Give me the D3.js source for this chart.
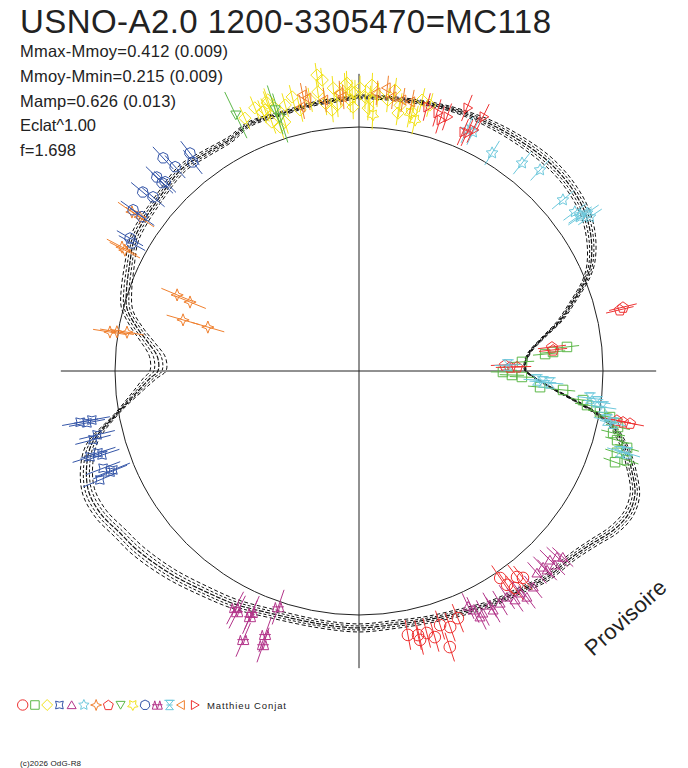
<!DOCTYPE html>
<html><head><meta charset="utf-8">
<script src="https://cdn.jsdelivr.net/npm/d3@7"></script>
<style>body{margin:0;background:#fff}svg{display:block}</style>
</head><body>
<svg id="chart" width="688" height="768"></svg>
<script>
// ---------- DATA ----------
const titleText = "USNO-A2.0 1200-3305470=MC118";
const statLabels = ["Mmax-Mmoy=0.412 (0.009)", "Mmoy-Mmin=0.215 (0.009)", "Mamp=0.626 (0.013)", "Eclat^1.00", "f=1.698"];
const authorText = "Matthieu Conjat";
const copyrightText = "(c)2026 OdG-R8";
const watermarkText = "Provisoire";

// fitted light curve: phase (degrees, clockwise from top), relative flux (mean = 1), spread of the family of fits
const curvePhase = [0,10,20,30,40,45,50,55,60,65,68,72,76,80,84,88,90,92,95,98,100,102,104,107,110,114,118,122,126,131,138,144,150,157,165,172,180,189,200,208,215,223,231,236,241,246,251,255,260,265,268,270,274,278,281,285,289,295,300,303,310,319,325,331,336,344,351,356];
const curveFlux = [1.123,1.127,1.139,1.148,1.156,1.156,1.148,1.131,1.098,1.049,1.004,0.922,0.848,0.762,0.701,0.680,0.684,0.717,0.791,0.902,0.984,1.057,1.098,1.148,1.189,1.238,1.250,1.230,1.193,1.160,1.143,1.115,1.098,1.074,1.057,1.049,1.053,1.049,1.057,1.082,1.102,1.135,1.168,1.184,1.209,1.213,1.180,1.131,1.008,0.906,0.857,0.824,0.828,0.877,0.926,0.984,1.008,1.037,1.066,1.074,1.082,1.102,1.090,1.086,1.107,1.102,1.111,1.115];
const curveSpread = [0.016,0.016,0.020,0.033,0.041,0.041,0.041,0.041,0.041,0.037,0.033,0.029,0.025,0.016,0.012,0.008,0.008,0.008,0.012,0.020,0.025,0.029,0.033,0.037,0.041,0.041,0.041,0.041,0.037,0.033,0.029,0.025,0.025,0.029,0.029,0.033,0.033,0.033,0.037,0.041,0.045,0.049,0.053,0.053,0.053,0.053,0.053,0.049,0.020,0.041,0.057,0.066,0.066,0.061,0.057,0.049,0.045,0.041,0.037,0.037,0.033,0.033,0.029,0.025,0.020,0.016,0.016,0.016];
const curveOffsets = [-0.5,-0.25,0,0.25,0.5];

// observations: [phase deg, relative flux]
const redCircles = [[169.5,1.100],[167.4,1.109],[165.5,1.109],[164.1,1.134],[167.2,1.130],[160.4,1.114],[158.2,1.091],[161.8,1.191],[162.3,1.093],[145.7,1.027],[142.5,1.064],[141.6,1.082],[145.3,1.066],[144.3,1.095]];
const greenSquares = [[83.4,0.858],[84.8,0.766],[84.4,0.799],[86.8,0.669],[90.4,0.590],[91.5,0.627],[92.1,0.668],[95.1,0.745],[95.3,0.840],[97.4,0.926],[98.5,0.945],[99.7,1.002],[100.4,1.046],[102.2,1.086],[103.7,1.072],[105.0,1.095],[106.0,1.143],[107.6,1.109],[109.6,1.114],[108.4,1.157]];
const yellowDiamonds = [[335.7,1.137],[338.4,1.160],[339.5,1.134],[341.4,1.172],[342.3,1.131],[344.5,1.131],[346.3,1.156],[347.3,1.097],[349.8,1.129],[351.6,1.156],[352.8,1.107],[354.8,1.164],[356.1,1.134],[357.2,1.173],[358.1,1.111],[359.2,1.143],[0.2,1.160],[1.3,1.123],[2.0,1.078],[2.6,1.173],[3.9,1.134],[6.1,1.117],[7.3,1.161],[8.8,1.102],[11.6,1.084],[13.1,1.140],[14.9,1.128],[351.9,1.225],[352.8,1.202],[357.6,1.181],[358.6,1.144],[341.1,1.161],[340.2,1.137],[340.7,1.081],[342.1,1.051],[343.4,1.065],[354.1,1.075],[355.3,1.094],[358.7,1.082],[2.3,1.120],[8.6,1.069]];
const blueConcaveSquares = [[259.6,1.162],[259.6,1.113],[259.2,1.135],[256.3,1.105],[255.5,1.126],[252.3,1.157],[252.6,1.121],[251.9,1.108],[249.2,1.122],[248.1,1.087],[247.9,1.101],[247.2,1.152]];
const magentaTriangles = [[154.5,1.085],[152.9,1.114],[153.8,1.123],[148.7,1.113],[146.8,1.107],[144.0,1.124],[143.4,1.154],[141.1,1.137],[138.6,1.103],[136.8,1.102],[134.7,1.101],[133.2,1.113],[132.4,1.131],[136.6,1.122],[150.7,1.123],[145.7,1.135],[150.8,1.099],[134.7,1.130],[155.1,1.062]];
const cyanStars = [[24.1,1.082],[25.5,1.085],[31.4,1.047],[38.1,1.083],[42.0,1.109],[50.0,1.091],[54.8,1.109],[55.3,1.137],[56.3,1.138],[55.1,1.104],[53.6,1.099]];
const orangeStars = [[305.0,1.136],[305.1,1.097],[297.6,1.096],[297.3,1.080],[292.7,0.808],[292.2,0.748],[286.2,0.751],[286.2,0.645],[278.9,1.033],[279.2,1.005],[279.5,0.964]];
const redPentagons = [[76.8,1.098],[76.4,1.113],[82.9,0.797],[83.8,0.800],[87.6,0.599],[88.5,0.619],[88.5,0.648],[100.9,1.102],[100.9,1.131],[100.8,1.076]];
const greenTrianglesDown = [[334.3,1.164],[342.2,1.124],[342.7,1.086]];
const yellowStars = [[11.2,1.078],[3.1,1.051],[12.6,1.054]];
const blueHexagons = [[317.4,1.186],[318.0,1.126],[322.2,1.130],[321.5,1.094],[313.8,1.148],[313.7,1.116],[314.3,1.110],[309.6,1.150],[310.2,1.105],[305.5,1.137],[305.4,1.091],[300.1,1.085],[299.4,1.068]];
const magentaDoubleTriangles = [[207.6,1.096],[206.8,1.107],[203.9,1.103],[203.9,1.084],[203.3,1.200],[199.6,1.148],[199.3,1.190],[198.9,1.023]];
const cyanHourglasses = [[87.7,0.611],[92.9,0.730],[93.4,0.755],[93.6,0.784],[96.7,0.953],[97.4,0.984],[98.4,1.011],[101.2,1.036],[101.6,1.063],[107.2,1.120],[107.0,1.149]];
const orangeTrianglesLeft = [[348.5,1.154],[349.4,1.138],[352.8,1.119],[356.1,1.142],[356.7,1.125],[3.7,1.142],[5.7,1.166],[7.1,1.132],[9.2,1.125],[11.1,1.124],[347.8,1.107]];
const redTrianglesRight = [[14.4,1.117],[16.8,1.105],[17.9,1.081],[19.1,1.102],[22.3,1.165],[24.4,1.071],[26.0,1.159],[25.3,1.093],[23.5,1.068]];

const seriesData = [redCircles, greenSquares, yellowDiamonds, blueConcaveSquares, magentaTriangles, cyanStars, orangeStars, redPentagons, greenTrianglesDown, yellowStars, blueHexagons, magentaDoubleTriangles, cyanHourglasses, orangeTrianglesLeft, redTrianglesRight];
const seriesShapes = ["circle","square","diamond","concave","triUp","star5","star4","pentagon","triDown","star6","hexagon","doubleTri","hourglass","triLeft","triRight"];
const seriesColors = ["#ee3333","#5cb848","#f2e21a","#3556a8","#b3358a","#6cc8dc","#f0802e","#ee3333","#5cb848","#f2e21a","#3556a8","#b3358a","#6cc8dc","#f0802e","#ee3333"];
const seriesErr = [0.062,0.05,0.05,0.075,0.058,0.058,0.07,0.058,0.105,0.06,0.062,0.075,0.055,0.05,0.058];

// ---------- CHART ----------
const svg = d3.select("#chart");
const W = 688, H = 768;
svg.append("rect").attr("width", W).attr("height", H).attr("fill", "#fff");
const cx = 359, cy = 371;
const rScale = d3.scaleLinear().domain([0, 1]).range([0, 244]);
const aScale = d3.scaleLinear().domain([0, 360]).range([0, 2 * Math.PI]);
const axisExtent = 1.222;
const ink = "#222";
const font = "'Liberation Sans', Arial, sans-serif";

const g = svg.append("g").attr("transform", `translate(${cx},${cy})`);

// axes
g.append("line").attr("x1", -rScale(axisExtent)).attr("x2", rScale(axisExtent) - 1).attr("y1", 0).attr("y2", 0)
  .attr("stroke", ink).attr("stroke-width", 1);
g.append("line").attr("x1", 0).attr("x2", 0).attr("y1", -rScale(axisExtent) + 1).attr("y2", rScale(axisExtent) - 1)
  .attr("stroke", ink).attr("stroke-width", 1);
// mean circle
g.append("circle").attr("r", rScale(1)).attr("fill", "none").attr("stroke", ink).attr("stroke-width", 1);

// family of fitted curves
const curvePts = curvePhase.map((p, i) => ({p, f: curveFlux[i], s: curveSpread[i]}));
curveOffsets.forEach((k, j) => {
  const line = d3.lineRadial()
    .angle(d => aScale(d.p))
    .radius(d => rScale(d.f + k * d.s))
    .curve(d3.curveCatmullRomClosed.alpha(0.5));
  g.append("path").attr("d", line(curvePts)).attr("fill", "none")
    .attr("stroke", "#111").attr("stroke-width", k === 0 ? 1.2 : 1)
    .attr("stroke-dasharray", k === 0 ? "5,1.5" : (j % 2 ? "3,2" : "4,2.5"));
});

// shape builders
function poly(pts) { return "M" + pts.map(p => p[0].toFixed(2) + "," + p[1].toFixed(2)).join("L") + "Z"; }
function regular(n, R, rot, dy = 0) {
  const pts = [];
  for (let i = 0; i < n; i++) { const a = rot + i * 2 * Math.PI / n; pts.push([R * Math.sin(a), -R * Math.cos(a) + dy]); }
  return poly(pts);
}
function star(n, R, r, rot) {
  const pts = [];
  for (let i = 0; i < 2 * n; i++) { const a = rot + i * Math.PI / n; const rr = i % 2 ? r : R; pts.push([rr * Math.sin(a), -rr * Math.cos(a)]); }
  return poly(pts);
}
function shapePath(type, R) {
  switch (type) {
    case "circle": return `M${R},0A${R},${R} 0 1,1 ${-R},0A${R},${R} 0 1,1 ${R},0Z`;
    case "square": { const s = R * 0.82; return poly([[-s,-s],[s,-s],[s,s],[-s,s]]); }
    case "diamond": return regular(4, R * 1.05, 0);
    case "concave": return star(4, R * 1.05, R * 0.55, Math.PI / 4);
    case "triUp": return regular(3, R, 0, R * 0.2);
    case "star5": return star(5, R * 1.05, R * 0.5, 0);
    case "star4": return star(4, R * 1.05, R * 0.4, 0);
    case "pentagon": return regular(5, R, 0, R * 0.08);
    case "triDown": return regular(3, R, Math.PI, -R * 0.2);
    case "star6": return star(5, R * 1.05, R * 0.55, Math.PI / 5) ;
    case "hexagon": return regular(7, R * 0.95, 0);
    case "doubleTri": {
      const h = R * 0.8, w = R * 0.48;
      return poly([[-w,-h],[-2*w,h],[0,h]]) + poly([[w,-h],[0,h],[2*w,h]]) + `M${-R},${-0.05*R}L${R},${-0.05*R}`;
    }
    case "hourglass": {
      const h = R * 0.9, w = R * 0.75;
      return poly([[-w,-h],[w,-h],[0,0]]) + poly([[0,0],[w,h],[-w,h]]) + `M${-R},${-h}L${R},${-h}M${-R*0.6},0L${R*0.6},0`;
    }
    case "triLeft": return regular(3, R, -Math.PI / 2, 0);
    case "triRight": return regular(3, R, Math.PI / 2, 0);
  }
}

// observations with radial error bars
seriesData.forEach((data, si) => {
  const col = seriesColors[si], err = seriesErr[si];
  const grp = g.append("g").attr("class", "series-" + si);
  data.forEach(([p, f]) => {
    const a = aScale(p);
    const p1 = d3.pointRadial(a, rScale(f - err));
    const p2 = d3.pointRadial(a, rScale(f + err));
    const pc = d3.pointRadial(a, rScale(f));
    grp.append("line").attr("x1", p1[0]).attr("y1", p1[1]).attr("x2", p2[0]).attr("y2", p2[1])
      .attr("stroke", col).attr("stroke-width", 1);
    grp.append("path").attr("d", shapePath(seriesShapes[si], 5.8))
      .attr("transform", `translate(${pc[0]},${pc[1]})`)
      .attr("fill", "none").attr("stroke", col).attr("stroke-width", 1);
  });
});

// title and statistics
svg.append("text").attr("x", 20).attr("y", 33).text(titleText)
  .attr("font-family", font).attr("font-size", 33).attr("fill", ink)
  .attr("textLength", 531).attr("lengthAdjust", "spacing");
const statLengths = [208, 203, 156, 76, 56];
statLabels.forEach((t, i) => {
  svg.append("text").attr("x", 20).attr("y", 57.3 + i * 24.6).text(t)
    .attr("font-family", font).attr("font-size", 16.5).attr("fill", ink)
    .attr("textLength", statLengths[i]).attr("lengthAdjust", "spacing");
});

// watermark
svg.append("text").attr("transform", "translate(593,657) rotate(-42)").text(watermarkText)
  .attr("font-family", font).attr("font-size", 22).attr("fill", ink)
  .attr("textLength", 101).attr("lengthAdjust", "spacing");

// legend
const legendX = d3.scaleLinear().domain([0, seriesShapes.length - 1]).range([22.7, 194]);
const legend = svg.append("g");
seriesShapes.forEach((s, i) => {
  legend.append("path").attr("d", shapePath(s, 5.2))
    .attr("transform", `translate(${legendX(i)},705)`)
    .attr("fill", "none").attr("stroke", seriesColors[i]).attr("stroke-width", 1);
});
svg.append("text").attr("x", 207).attr("y", 709).text(authorText)
  .attr("font-family", font).attr("font-size", 9.5).attr("fill", ink)
  .attr("textLength", 79).attr("lengthAdjust", "spacing");
svg.append("text").attr("x", 20).attr("y", 766).text(copyrightText)
  .attr("font-family", font).attr("font-size", 8).attr("fill", ink)
  .attr("textLength", 61).attr("lengthAdjust", "spacing");
</script>
</body></html>
